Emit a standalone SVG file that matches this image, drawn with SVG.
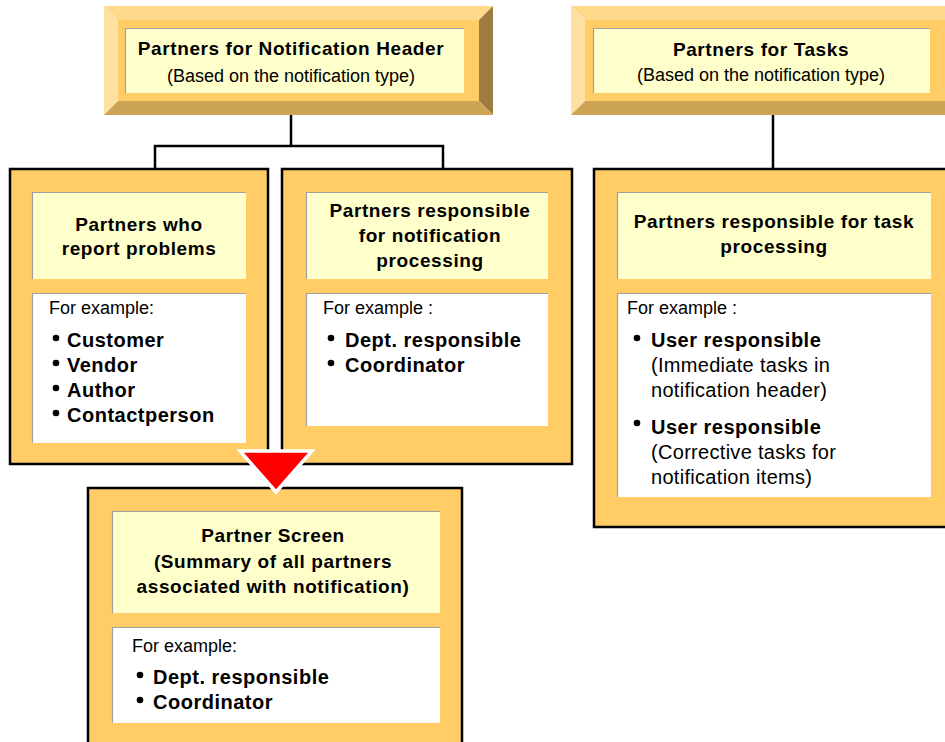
<svg xmlns="http://www.w3.org/2000/svg" width="945" height="742" viewBox="0 0 945 742">
<style>
text{font-family:"Liberation Sans",Arial,sans-serif;fill:#000}
.h{font-size:19px;font-weight:bold;letter-spacing:.6px;text-anchor:middle}
.sub{font-size:18px;text-anchor:middle}
.ex{font-size:18px}
.b{font-size:20px;font-weight:bold;letter-spacing:.5px}
.r{font-size:20px;letter-spacing:.3px}
.dot{fill:#000}
.box{fill:#FFCC66;stroke:#000;stroke-width:2.5}
.face{fill:#FFCC66}
.bt{fill:#FFD98A}.bl{fill:#FFE0A3}.br{fill:#9E7B3E}.bb{fill:#CDA453}
.hp{fill:#FFFFCC}
.wp{fill:#FFFFFF}
.edge{fill:none;stroke:#A0A0A0;stroke-width:1.2}
.conn{fill:none;stroke:#000;stroke-width:2.5}
</style>
<g id="connectors">
<path class="conn" d="M291,115 V146 M155,169 V146 H443 V169"/>
<path class="conn" d="M773,115 V169"/>
</g>
<g id="hdr-notification">
<polygon class="bt" points="104,6 493,6 479,20 118,20"/>
<polygon class="bl" points="104,6 118,20 118,101 104,115"/>
<polygon class="br" points="493,6 493,115 479,101 479,20"/>
<polygon class="bb" points="104,115 493,115 479,101 118,101"/>
<rect class="face" x="118" y="20" width="361" height="81"/>
<rect class="hp" x="125" y="28" width="339" height="65"/>
<path class="edge" d="M125.5,93 V28.5 H464"/>
<text class="h" x="291" y="55">Partners for Notification Header</text>
<text class="sub" x="291" y="82">(Based on the notification type)</text>
</g>
<g id="hdr-tasks">
<polygon class="bt" points="571,6 960,6 946,20 585,20"/>
<polygon class="bl" points="571,6 585,20 585,101 571,115"/>
<polygon class="bb" points="571,115 960,115 946,101 585,101"/>
<rect class="face" x="585" y="20" width="361" height="81"/>
<rect class="hp" x="593" y="28" width="337" height="65"/>
<path class="edge" d="M593.5,93 V28.5 H930"/>
<text class="h" x="761" y="56">Partners for Tasks</text>
<text class="sub" x="761" y="81">(Based on the notification type)</text>
</g>
<g id="box-report">
<rect class="box" x="10" y="169" width="258" height="295"/>
<rect class="hp" x="32" y="192" width="214" height="87"/>
<path class="edge" d="M32.5,279 V192.5 H246"/>
<rect class="wp" x="32" y="293" width="214" height="150"/>
<path class="edge" d="M32.5,443 V293.5 H246"/>
<text class="h" x="139" y="231">Partners who</text>
<text class="h" x="139" y="255">report problems</text>
<text class="ex" x="49" y="314">For example:</text>
<circle class="dot" cx="56" cy="338" r="3.3"/><text class="b" x="67" y="347">Customer</text>
<circle class="dot" cx="56" cy="363" r="3.3"/><text class="b" x="67" y="372">Vendor</text>
<circle class="dot" cx="56" cy="388" r="3.3"/><text class="b" x="67" y="397">Author</text>
<circle class="dot" cx="56" cy="413" r="3.3"/><text class="b" x="67" y="422">Contactperson</text>
</g>
<g id="box-processing">
<rect class="box" x="282" y="169" width="290" height="295"/>
<rect class="hp" x="306" y="192" width="242" height="87"/>
<path class="edge" d="M306.5,279 V192.5 H548"/>
<rect class="wp" x="306" y="293" width="242" height="133"/>
<path class="edge" d="M306.5,426 V293.5 H548"/>
<text class="h" x="430" y="217">Partners responsible</text>
<text class="h" x="430" y="242">for notification</text>
<text class="h" x="430" y="267">processing</text>
<text class="ex" x="323" y="314">For example :</text>
<circle class="dot" cx="331" cy="338" r="3.3"/><text class="b" x="345" y="347">Dept. responsible</text>
<circle class="dot" cx="331" cy="363" r="3.3"/><text class="b" x="345" y="372">Coordinator</text>
</g>
<g id="box-tasks">
<rect class="box" x="594" y="169" width="370" height="358"/>
<rect class="hp" x="617" y="192" width="314" height="87"/>
<path class="edge" d="M617.5,279 V192.5 H931"/>
<rect class="wp" x="617" y="293" width="314" height="204"/>
<path class="edge" d="M617.5,497 V293.5 H931"/>
<text class="h" x="774" y="228">Partners responsible for task</text>
<text class="h" x="774" y="253">processing</text>
<text class="ex" x="627" y="314">For example :</text>
<circle class="dot" cx="637" cy="338" r="3.3"/><text class="b" x="651" y="347">User responsible</text>
<text class="r" x="651" y="372">(Immediate tasks in</text>
<text class="r" x="651" y="397">notification header)</text>
<circle class="dot" cx="637" cy="423" r="3.3"/><text class="b" x="651" y="434">User responsible</text>
<text class="r" x="651" y="459">(Corrective tasks for</text>
<text class="r" x="651" y="484">notification items)</text>
</g>
<g id="box-screen">
<rect class="box" x="88" y="488" width="374" height="270"/>
<rect class="hp" x="112" y="511" width="328" height="102"/>
<path class="edge" d="M112.5,613 V511.5 H440"/>
<rect class="wp" x="112" y="627" width="328" height="96"/>
<path class="edge" d="M112.5,723 V627.5 H440"/>
<text class="h" x="273" y="542">Partner Screen</text>
<text class="h" x="273" y="568">(Summary of all partners</text>
<text class="h" x="273" y="593">associated with notification)</text>
<text class="ex" x="132" y="652">For example:</text>
<circle class="dot" cx="140" cy="675" r="3.3"/><text class="b" x="153" y="684">Dept. responsible</text>
<circle class="dot" cx="140" cy="700" r="3.3"/><text class="b" x="153" y="709">Coordinator</text>
</g>
<g id="arrow">
<polygon points="240,451 312,451 276,492" fill="#FF0000" stroke="#FFFFFF" stroke-width="3.5" stroke-linejoin="miter"/>
</g>
</svg>
